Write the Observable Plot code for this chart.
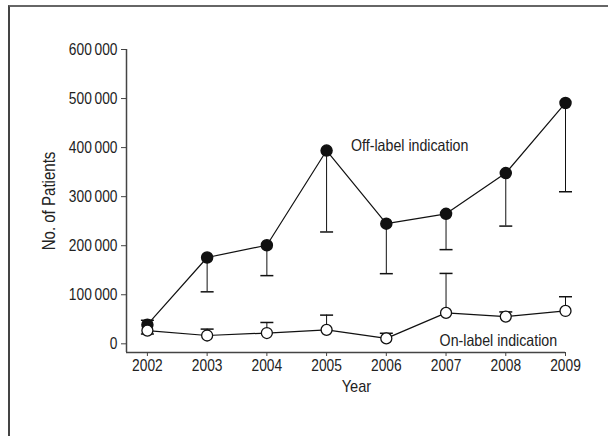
<!DOCTYPE html>
<html><head><meta charset="utf-8">
<script src="https://cdn.jsdelivr.net/npm/d3@7"></script>
<script src="https://cdn.jsdelivr.net/npm/@observablehq/plot@0.6"></script>
<style>
body{margin:0;background:#fff;}
#wrap{position:relative;width:608px;height:436px;overflow:hidden;}
#chart{position:absolute;left:0;top:0;}
#frame{position:absolute;left:8px;top:5px;width:640px;height:480px;border-top:2px solid #666;border-left:2px solid #444;pointer-events:none;}
</style></head><body><div id="wrap"><div id="chart"></div><div id="frame"></div></div>
<script>
const years = [2002, 2003, 2004, 2005, 2006, 2007, 2008, 2009];
const offLabel = [39000, 176000, 201000, 394000, 245000, 265000, 348000, 491000];
const offLower = [20000, 106000, 139000, 228000, 143000, 192000, 240000, 310000];
const onLabel = [27000, 17000, 22000, 28500, 11000, 63000, 55500, 67000];
const onUpper = [48000, 30000, 43500, 58500, 21500, 143500, 65000, 96000];
const yTicks = [0, 100000, 200000, 300000, 400000, 500000, 600000];
const offText = {text: "Off-label indication", year: 2005.41, value: 404000};
const onText = {text: "On-label indication", year: 2008.86, value: 7000};

const xMin = 2001.65, yMin = -17700;
const FONT = "'Liberation Sans', Arial, sans-serif";

const off = years.map((y, i) => ({year: y, v: offLabel[i], e: offLower[i]}));
const on = years.map((y, i) => ({year: y, v: onLabel[i], e: onUpper[i]}));

const cap = {draw(ctx, size) { const r = Math.sqrt(size / Math.PI); ctx.moveTo(-r, 0); ctx.lineTo(r, 0); }};
const fmt = d => d3.format(",")(d).replace(/,/g, "\u2009");

const chart = Plot.plot({
  width: 608, height: 436,
  marginLeft: 126, marginRight: 43, marginTop: 49, marginBottom: 84,
  x: {domain: [xMin, 2009], axis: null},
  y: {domain: [yMin, 600000], axis: null},
  style: {fontFamily: FONT, fontSize: "16px", color: "#222", background: "transparent"},
  marks: [
    Plot.ruleX([xMin], {stroke: "#444", strokeWidth: 1.5}),
    Plot.ruleY([yMin], {stroke: "#444", strokeWidth: 1.5}),
    Plot.axisY({ticks: yTicks, tickFormat: fmt, tickSize: 5, tickPadding: 4, label: "No. of Patients", labelAnchor: "center", labelArrow: "none", labelOffset: 84, stroke: "#444", fontSize: 16}),
    Plot.axisX({ticks: years, tickFormat: d => String(d), tickSize: 4, tickPadding: 3, label: null, stroke: "#444", fontSize: 16}),
    Plot.text(["Year"], {x: () => d3.mean(years), frameAnchor: "bottom", dy: 39, fill: "#222", fontSize: 17}),
    Plot.ruleX(off, {x: "year", y1: "v", y2: "e", stroke: "#111"}),
    Plot.dot(off, {x: "year", y: "e", symbol: cap, r: 6.5, stroke: "#111", fill: "none"}),
    Plot.ruleX(on, {x: "year", y1: "v", y2: "e", stroke: "#111"}),
    Plot.dot(on, {x: "year", y: "e", symbol: cap, r: 6.5, stroke: "#111", fill: "none"}),
    Plot.line(off, {x: "year", y: "v", stroke: "#111", strokeWidth: 1.2}),
    Plot.line(on, {x: "year", y: "v", stroke: "#111", strokeWidth: 1.2}),
    Plot.dot(off, {x: "year", y: "v", r: 5.5, fill: "#111", stroke: "#111"}),
    Plot.dot(on, {x: "year", y: "v", r: 5.5, fill: "#fff", stroke: "#111", strokeWidth: 1.3}),
    Plot.text([offText], {x: "year", y: "value", text: "text", textAnchor: "start", fill: "#222", fontSize: 16.5}),
    Plot.text([onText], {x: "year", y: "value", text: "text", textAnchor: "end", fill: "#222", fontSize: 16.5})
  ]
});
document.getElementById("chart").appendChild(chart);
// y-axis label font size (before measuring)
chart.querySelectorAll("[aria-label='y-axis label'] text, [aria-label='y-axis label']").forEach(t => t.style.fontSize = "17.5px");
// condense glyphs horizontally to mimic a narrow typeface
chart.querySelectorAll("text").forEach(t => {
  const len = t.getComputedTextLength();
  if (len > 0) {
    t.setAttribute("textLength", (len * 0.86).toFixed(2));
    t.setAttribute("lengthAdjust", "spacingAndGlyphs");
  }
});
</script></body></html>
